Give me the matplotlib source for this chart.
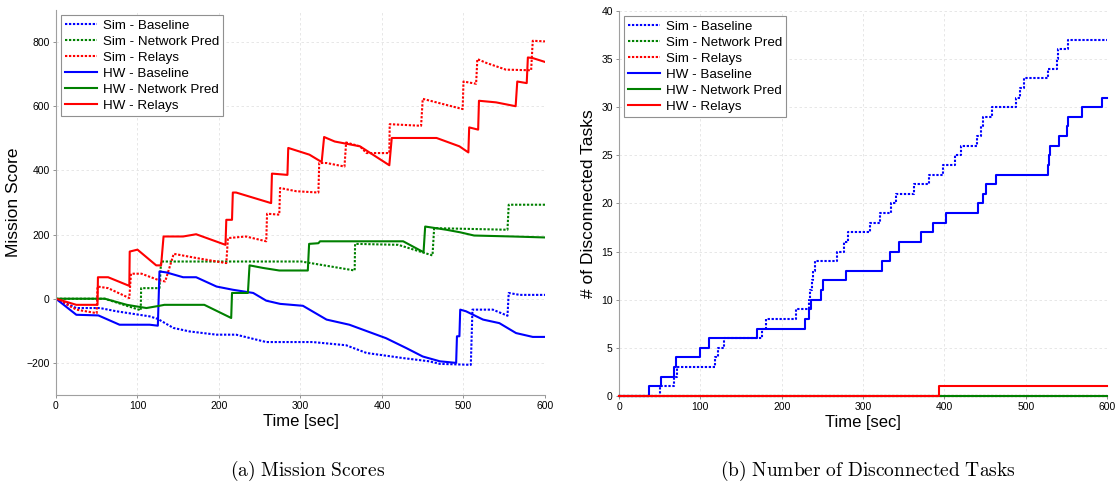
import numpy as np
import matplotlib
matplotlib.use("Agg")
import matplotlib.pyplot as plt

plt.rcParams['font.family'] = ['Liberation Sans', 'DejaVu Sans']
plt.rcParams['mathtext.fontset'] = 'cm'

# ---- (a) mission score traces: (time [s], score) vertices ----
sim_base_t = [0, 25, 54, 74, 115, 125, 144, 164, 197, 221, 258, 275, 315, 356, 381, 426, 458, 471, 509, 511, 536, 554, 555.5, 569, 600]
sim_base_v = [0, -29, -29, -39, -55, -63, -91, -102, -112, -112, -135, -135, -135, -145, -169, -185, -195, -203, -206, -34, -34, -53, 18, 12, 12]

sim_net_t = [0, 60, 104, 104.5, 127, 129, 301, 366.5, 367, 420, 462, 464, 554, 555.5, 600]
sim_net_v = [0, 0, -36, 33, 33, 116, 116, 88, 171, 168, 135, 220, 215, 293, 293]

sim_relay_t = [0, 25, 50, 51, 64, 90, 92, 105, 127, 134, 144.5, 172, 209, 211, 233, 258, 259, 274, 275, 295, 322, 323, 332, 354, 356,
               373, 381, 409, 409.5, 448, 450, 499, 500, 515.5, 517, 528, 552, 583, 585, 600]
sim_relay_v = [0, -34, -45, 38, 33, 2, 78, 78, 57, 54, 140, 127, 111, 189, 194, 179, 265, 262, 345, 335, 331, 423, 423, 412, 487,
               475, 454, 454, 544, 539, 623, 591, 677, 670, 747, 735, 714, 712, 804, 802]

hw_base_t = [0, 25, 52, 78, 115, 125, 127, 135.5, 156, 172, 197, 217, 242, 258, 275, 303, 332, 360, 405, 430, 450, 471, 491, 492,
             495, 496, 503, 524, 544, 564.5, 585, 600]
hw_base_v = [0, -50, -52, -81, -81, -84, 85, 82, 67, 67, 38, 28, 18, -6, -16, -22, -65, -81, -123, -154, -180, -195, -200, -117,
             -117, -34, -39, -65, -76, -107, -119, -119]

hw_net_t = [0, 60, 87, 111, 127, 133, 182, 215, 216, 235.5, 237.5, 254, 274, 309, 310.6, 322, 324, 426, 451, 453, 479, 496, 513, 560, 600]
hw_net_v = [0, 0, -19, -29, -22, -19, -19, -60, 18, 18, 104, 96, 88, 88, 171, 173, 179, 179, 145, 225, 215, 207, 197, 194, 191]

hw_relay_t = [0, 25, 51, 51.5, 64, 90, 90.5, 100, 123, 129, 132, 156, 172, 208, 209, 216, 217, 221, 264, 265, 284, 285, 311, 326,
              329, 342, 373, 409, 412, 467, 495, 506, 507, 518, 519, 540, 564, 566, 577.6, 579, 585, 600]
hw_relay_v = [0, -19, -19, 67, 67, 40, 147, 153, 104, 104, 194, 194, 201, 168, 246, 246, 331, 331, 298, 390, 386, 470, 449, 426,
              504, 490, 475, 416, 501, 501, 475, 456, 534, 527, 617, 612, 600, 677, 672, 752, 750, 738]

# ---- (b) disconnected task counts (step changes) ----
sim_base_disc_t = [0, 50.5, 68, 71, 118, 122, 129.5, 176, 180.5, 217, 234, 235, 237, 239, 241, 268.5, 276, 282, 308.6, 321, 334,
                   341, 362.7, 381.6, 398, 413, 420, 440, 445, 447, 458, 488, 493, 498, 527, 539, 540, 552.5, 600]
sim_base_disc_n = [0, 1, 2, 3, 4, 5, 6, 7, 8, 9, 10, 11, 12, 13, 14, 15, 16, 17, 18, 19, 20,
                   21, 22, 23, 24, 25, 26, 27, 28, 29, 30, 31, 32, 33, 34, 35, 36, 37, 37]

hw_base_disc_t = [0, 37, 51, 68, 70, 99.6, 111, 170, 228.7, 234, 236, 248, 251, 278.7, 323, 333, 344.7, 371, 385.7, 401.7,
                  441, 448, 451, 463.5, 528, 529, 530, 541, 551, 552, 569, 593.5, 600]
hw_base_disc_n = [0, 1, 2, 3, 4, 5, 6, 7, 8, 9, 10, 11, 12, 13, 14, 15, 16, 17, 18, 19,
                  20, 21, 22, 23, 24, 25, 26, 27, 28, 29, 30, 31, 31]

hw_relay_disc_t = [0, 393, 600]
hw_relay_disc_n = [0, 1, 1]

zero_t = [0, 600]
zero_n = [0, 0]

labels = ['Sim - Baseline', 'Sim - Network Pred', 'Sim - Relays',
          'HW - Baseline', 'HW - Network Pred', 'HW - Relays']
BLUE, GREEN, RED = '#0000ff', '#008000', '#ff0000'
DOT = (0, (1.1, 0.8))
LW = 1.5


def style_axes(ax):
    ax.grid(True, color='#e3e3e3', linestyle=(0, (3, 3)), linewidth=0.6)
    ax.set_axisbelow(True)
    for side in ['top', 'right']:
        ax.spines[side].set_visible(False)
    for side in ['left', 'bottom']:
        ax.spines[side].set_color('#a0a0a0')
        ax.spines[side].set_linewidth(0.8)
    ax.tick_params(direction='out', length=2.5, width=0.6, color='#808080', labelsize=7.5, pad=2)
    ax.set_xlim(0, 600)
    ax.set_xticks(range(0, 601, 100))
    ax.set_xlabel('Time [sec]', fontsize=12, labelpad=2)
    ax.legend(labels, loc='upper left', fontsize=9.6, frameon=True, fancybox=False,
              edgecolor='#909090', framealpha=1, handlelength=2.4, handletextpad=0.4,
              labelspacing=0.28, borderpad=0.3, borderaxespad=0.4)
    ax.get_legend().get_frame().set_linewidth(0.8)


fig = plt.figure(figsize=(11.17, 4.93), dpi=100)

# Mission scores
ax1 = fig.add_axes([0.0501, 0.1988, 0.4378, 0.781])
ax1.plot(sim_base_t, sim_base_v, color=BLUE, ls=DOT, lw=LW)
ax1.plot(sim_net_t, sim_net_v, color=GREEN, ls=DOT, lw=LW)
ax1.plot(sim_relay_t, sim_relay_v, color=RED, ls=DOT, lw=LW)
ax1.plot(hw_base_t, hw_base_v, color=BLUE, lw=LW)
ax1.plot(hw_net_t, hw_net_v, color=GREEN, lw=LW)
ax1.plot(hw_relay_t, hw_relay_v, color=RED, lw=LW)
ax1.set_ylim(-300, 900)
ax1.set_yticks(range(-200, 801, 200))
ax1.set_ylabel('Mission Score', fontsize=12.5, labelpad=4)
style_axes(ax1)

# Disconnected tasks (lines sit on the x axis, so draw them over the spine)
ax2 = fig.add_axes([0.5542, 0.1968, 0.4369, 0.781])
kw = dict(lw=LW, clip_on=False, zorder=3)
ax2.plot(sim_base_disc_t, sim_base_disc_n, color=BLUE, ls=DOT, drawstyle='steps-post', **kw)
ax2.plot(zero_t, zero_n, color=GREEN, ls=DOT, **kw)
ax2.plot(zero_t, zero_n, color=RED, ls=DOT, **kw)
ax2.plot(hw_base_disc_t, hw_base_disc_n, color=BLUE, drawstyle='steps-post', **kw)
ax2.plot(zero_t, zero_n, color=GREEN, **kw)
ax2.plot(hw_relay_disc_t, hw_relay_disc_n, color=RED, drawstyle='steps-post', **kw)
ax2.set_ylim(0, 40)
ax2.set_yticks(range(0, 41, 5))
ax2.set_ylabel('# of Disconnected Tasks', fontsize=12.5, labelpad=4)
style_axes(ax2)

fig.text(0.275, 0.035, r'$\mathrm{(a)\ Mission\ Scores}$', ha='center', va='baseline', fontsize=14)
fig.text(0.777, 0.035, r'$\mathrm{(b)\ Number\ of\ Disconnected\ Tasks}$', ha='center', va='baseline', fontsize=14)

fig.savefig('out.png', dpi=100)
